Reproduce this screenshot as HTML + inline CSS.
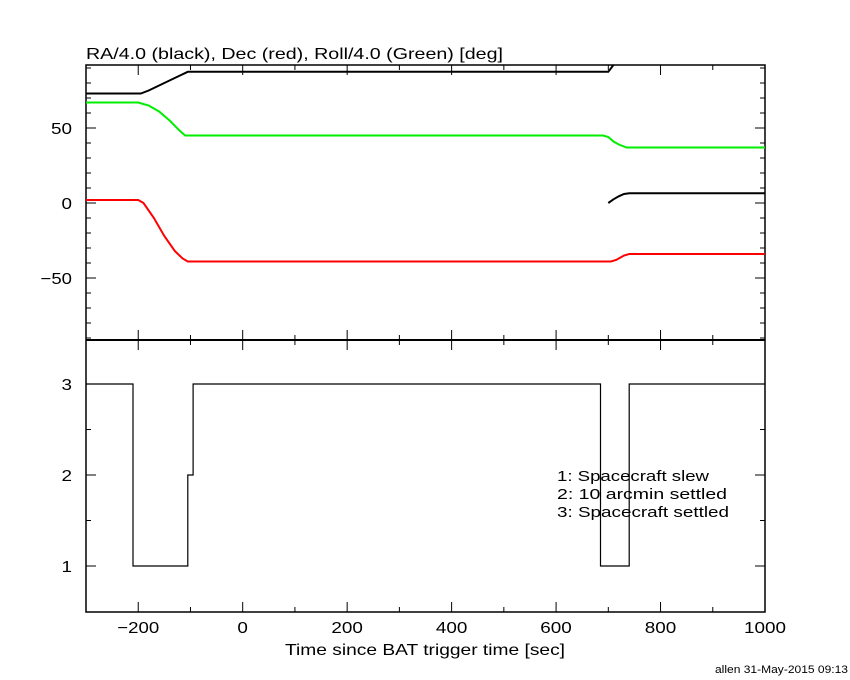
<!DOCTYPE html>
<html><head><meta charset="utf-8"><style>
body{margin:0;background:#fff;}
svg{display:block;font-family:"Liberation Sans",sans-serif;}
</style></head><body>
<svg id="c" width="850" height="680" viewBox="0 0 850 680">
<rect width="850" height="680" fill="#fff"/>
<text x="86" y="59" font-size="16" textLength="417" lengthAdjust="spacingAndGlyphs">RA/4.0 (black), Dec (red), Roll/4.0 (Green) [deg]</text>
<text x="285" y="655" font-size="16" textLength="280" lengthAdjust="spacingAndGlyphs">Time since BAT trigger time [sec]</text>
<text x="848" y="673" font-size="11" text-anchor="end" textLength="133" lengthAdjust="spacingAndGlyphs">allen 31-May-2015 09:13</text>
<g id="legend" font-size="15">
<text x="557" y="481" textLength="152" lengthAdjust="spacingAndGlyphs">1: Spacecraft slew</text>
<text x="557" y="499" textLength="170" lengthAdjust="spacingAndGlyphs">2: 10 arcmin settled</text>
<text x="557" y="517" textLength="172" lengthAdjust="spacingAndGlyphs">3: Spacecraft settled</text>
</g>
<g id="g"></g>
</svg>
<script>
const raT=[-300,-195,-180,-150,-120,-105,700,712];
const raV=[73,73,75,80,85,87.5,87.5,93];
const ra2T=[700,710,720,730,740,1000];
const ra2V=[0,2.5,4.5,6,6.5,6.5];
const grT=[-300,-200,-180,-160,-140,-120,-110,690,700,710,720,735,1000];
const grV=[67,67,65,61,55,48,45,45,44,41,39,37,37];
const deT=[-300,-200,-190,-170,-150,-130,-115,-105,705,715,730,740,1000];
const deV=[2,2,0,-10,-22,-32,-37,-39,-39,-38,-35,-34,-34];
const stT=[-300,-210,-210,-105,-105,-95,-95,685,685,740,740,1000];
const stV=[3,3,1,1,2,2,3,3,1,1,3,3];
const xTicks=[-200,0,200,400,600,800,1000];
const yTopTicks=[-50,0,50];
const yBotTicks=[1,2,3];
const L=86,R=765,T1=65,B1=340,T2=340,B2=612;
const X=t=>L+(t+300)*(R-L)/1300;
const Y1=v=>203-v*1.5;
const Y2=v=>566-(v-1)*91;
const g=document.getElementById('g');
const NS='http://www.w3.org/2000/svg';
function mk(tag,a){const e=document.createElementNS(NS,tag);for(const k in a)e.setAttribute(k,a[k]);g.appendChild(e);return e;}
function line(x1,y1,x2,y2,w){return mk('line',{x1,y1,x2,y2,stroke:'#000','stroke-width':w||1});}
const CW=10.5;
let e=mk('rect',{x:L,y:T1,width:R-L,height:B2-T1,fill:'none',stroke:'#000','stroke-width':1.5});


e=line(L,340,R,340,2);


for(let t=-300;t<=1000;t+=100){const x=X(t);const maj=t%200===0;const l=maj?10:5;
 line(x,T1,x,T1+l);line(x,B1,x,B1-l);line(x,T2,x,T2+l);line(x,B2,x,B2-l);}
for(const t of xTicks){const s=t<0?'\u2212'+(-t):String(t);e=mk('text',{x:X(t)-s.length*CW/2,y:633,'font-size':16,textLength:s.length*CW,lengthAdjust:'spacingAndGlyphs'});e.textContent=s;

}
for(let v=-90;v<=90;v+=10){const y=Y1(v);const l=v%50===0?10:5;line(L,y,L+l,y);line(R,y,R-l,y);}
for(const v of yTopTicks){const s=v<0?'\u2212'+(-v):String(v);e=mk('text',{x:72-s.length*CW,y:Y1(v)+6,'font-size':16,textLength:s.length*CW,lengthAdjust:'spacingAndGlyphs'});e.textContent=s;

}
for(let v=0.5;v<=3.5;v+=0.5){const y=Y2(v);if(y<T2+2||y>B2-2)continue;const l=Number.isInteger(v)?10:5;line(L,y,L+l,y);line(R,y,R-l,y);}
for(const v of yBotTicks){const s=String(v);e=mk('text',{x:72-CW,y:Y2(v)+6,'font-size':16,textLength:CW,lengthAdjust:'spacingAndGlyphs'});e.textContent=s;

}
const cp=mk('clipPath',{id:'cl'});const cr=document.createElementNS(NS,'rect');cr.setAttribute('x',L);cr.setAttribute('y',T1);cr.setAttribute('width',R-L);cr.setAttribute('height',B1-T1);cp.appendChild(cr);
function series(T,V,col,name,w){const pts=T.map((t,i)=>X(t).toFixed(1)+','+Y1(V[i]).toFixed(1)).join(' ');
 const p=mk('polyline',{points:pts,fill:'none',stroke:col,'stroke-width':w,'clip-path':'url(#cl)'});
 
 }
series(raT,raV,'#000','ra-line',2);
series(ra2T,ra2V,'#000','ra-wrapped-line',2);
series(grT,grV,'#00ee00','roll-line',2);
series(deT,deV,'#ff0000','dec-line',2);
const sp=stT.map((t,i)=>X(t).toFixed(1)+','+Y2(stV[i]).toFixed(1)).join(' ');
e=mk('polyline',{points:sp,fill:'none',stroke:'#000','stroke-width':1.2});


</script>
</body></html>
